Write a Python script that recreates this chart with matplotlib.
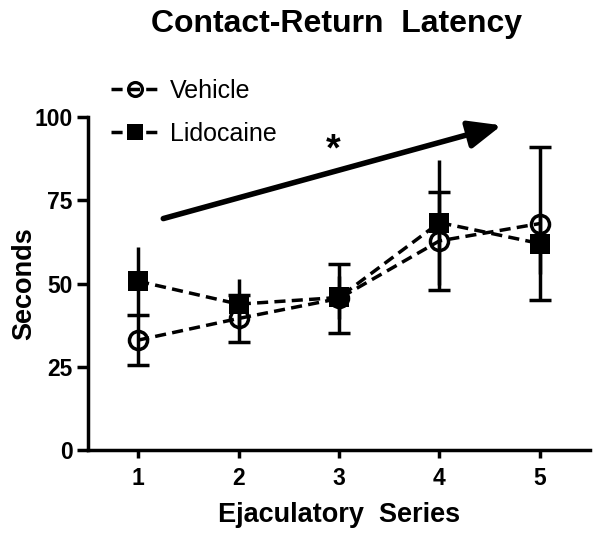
"""Contact-Return Latency: vehicle vs lidocaine across ejaculatory series."""

import matplotlib

matplotlib.use("Agg")

import matplotlib.pyplot as plt
from matplotlib.lines import Line2D

series = [1, 2, 3, 4, 5]
vehicle_mean = [33.0, 39.5, 45.5, 62.8, 68.0]
vehicle_sem = [7.5, 7.0, 10.4, 14.7, 23.0]
lido_mean = [50.7, 43.8, 45.8, 68.3, 62.0]
lido_sem = [10.3, 7.5, 6.5, 18.7, 9.0]
yticks = [0, 25, 50, 75, 100]

# trend arrow + significance mark (data coords)
arrow_start = (1.25, 69.5)
arrow_end = (4.62, 97.5)
star_pos = (2.94, 90.0)

plt.rcParams["font.family"] = ["Liberation Sans", "DejaVu Sans"]

fig = plt.figure(figsize=(6.01, 5.43), dpi=100)
ax = fig.add_axes([0.1464, 0.1713, 0.8353, 0.6132])

lw = 2.5
dash = (0, (3.2, 1.8))
ax.errorbar(series, vehicle_mean, yerr=vehicle_sem, color="black", lw=lw,
            linestyle=dash, marker="o", markersize=13, markerfacecolor="none",
            markeredgewidth=2.5, ecolor="black", elinewidth=lw, capsize=8,
            capthick=lw, zorder=3)
ax.errorbar(series, lido_mean, yerr=lido_sem, color="black", lw=lw,
            linestyle=dash, marker="s", markersize=14, markerfacecolor="black",
            markeredgewidth=0, ecolor="black", elinewidth=lw, capsize=8,
            capthick=lw, zorder=4)

ax.annotate("", xy=arrow_end, xytext=arrow_start,
            arrowprops=dict(arrowstyle="-|>,head_length=0.9,head_width=0.38",
                            lw=4.0, color="black", mutation_scale=22,
                            shrinkA=0, shrinkB=0),
            annotation_clip=False)
ax.text(*star_pos, "*", fontsize=27, fontweight="bold", ha="center", va="center")

ax.set_xlim(0.5, 5.5)
ax.set_ylim(0, 100)
ax.set_xticks(series)
ax.set_yticks(yticks)
for side in ("top", "right"):
    ax.spines[side].set_visible(False)
for side in ("left", "bottom"):
    ax.spines[side].set_linewidth(lw)
ax.tick_params(axis="x", direction="out", length=6, width=lw, labelsize=16.5, pad=6)
ax.tick_params(axis="y", direction="out", length=8, width=lw, labelsize=16.5, pad=3)
for lab in ax.get_xticklabels() + ax.get_yticklabels():
    lab.set_fontweight("bold")

ax.set_xlabel("Ejaculatory  Series", fontsize=19.5, fontweight="bold", labelpad=9)
ax.set_ylabel("Seconds", fontsize=19.5, fontweight="bold", labelpad=-2)
fig.text(0.56, 0.956, "Contact-Return  Latency", fontsize=23,
         fontweight="bold", ha="center", va="center")

handles = [
    Line2D([], [], color="black", lw=lw, linestyle=dash, marker="o",
           markersize=10, markerfacecolor="none", markeredgewidth=2.3),
    Line2D([], [], color="black", lw=lw, linestyle=dash, marker="s",
           markersize=12, markerfacecolor="black", markeredgewidth=0),
]
fig.legend(handles, ["Vehicle", "Lidocaine"], loc="upper left",
           bbox_to_anchor=(0.168, 0.873), frameon=False, fontsize=18,
           handlelength=1.9, handletextpad=0.45, labelspacing=0.75,
           borderaxespad=0)

fig.savefig("out.png", dpi=100)
